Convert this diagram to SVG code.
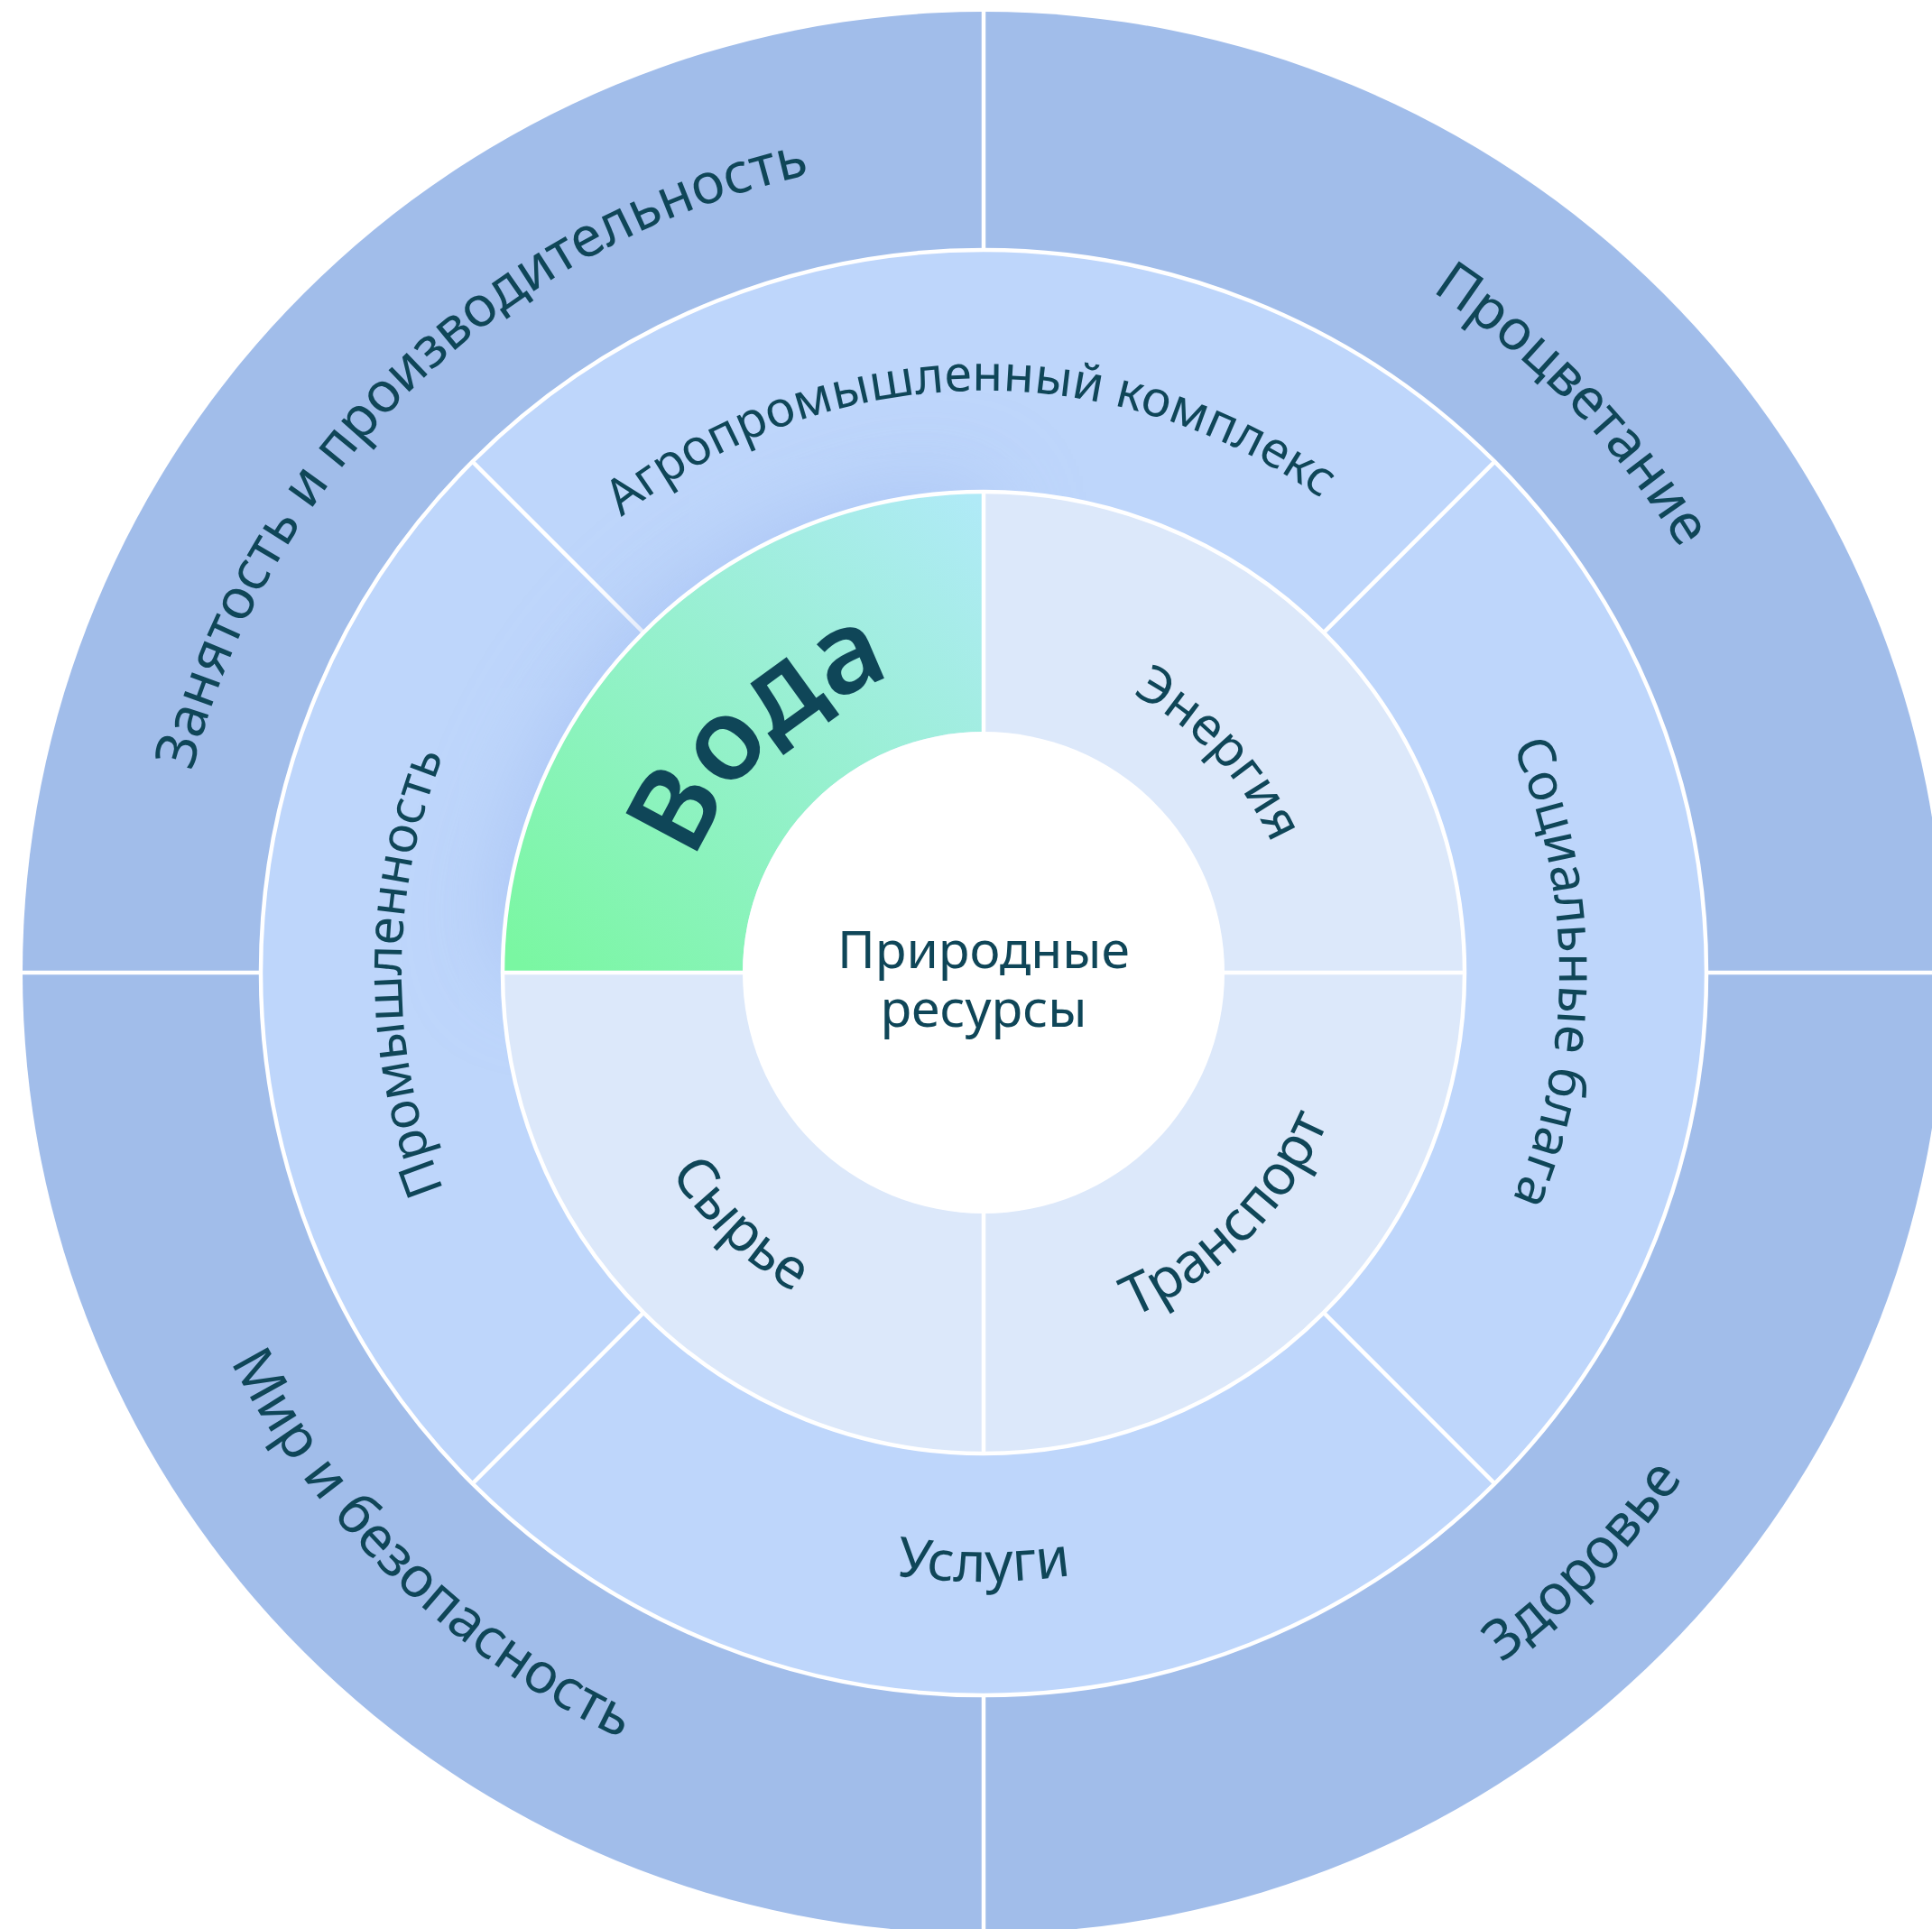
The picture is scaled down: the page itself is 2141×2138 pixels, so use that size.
<svg xmlns="http://www.w3.org/2000/svg" width="2141" height="2138" viewBox="0 0 2141 2138">
<style>
.lbl{font-family:"Noto Sans","DejaVu Sans",sans-serif;font-size:57px;fill:#0f4658;}
.outer{font-size:62px;}
.big{font-family:"Noto Sans","DejaVu Sans",sans-serif;font-size:126px;font-weight:600;fill:#0f4658;}
.div{stroke:#ffffff;stroke-width:4.5;fill:none;}
</style>
<defs>
<linearGradient id="gWater" gradientUnits="userSpaceOnUse" x1="580" y1="1070" x2="1090" y2="560">
<stop offset="0" stop-color="#7af7a2"/>
<stop offset="1" stop-color="#b0eaf7"/>
</linearGradient>
<filter id="fGlow" x="-50%" y="-50%" width="200%" height="200%">
<feGaussianBlur stdDeviation="55"/>
</filter>
<clipPath id="cMid"><circle cx="1090" cy="1078" r="798"/></clipPath>
<path id="pZan" d="M 439.0 1706.7 A 905 905 0 0 1 1741.0 449.3"/>
<path id="pPro" d="M 458.6 424.1 A 909 909 0 0 1 1721.4 1731.9"/>
<path id="pZdr" d="M 415.7 1764.1 A 962 962 0 0 0 1764.3 391.9"/>
<path id="pMir" d="M 409.4 421.0 A 946 946 0 0 0 1770.6 1735.0"/>
<path id="pAgro" d="M 445.2 1094.9 A 645 645 0 0 1 1734.8 1061.1"/>
<path id="pProm" d="M 1090 1723 A 645 645 0 0 1 1090 433"/>
<path id="pSoc" d="M 1090 440 A 638 638 0 0 1 1090 1716"/>
<path id="pUsl" d="M 415 1078 A 675 675 0 0 0 1765 1078"/>
<path id="pEn" d="M 851.3 822.0 A 350 350 0 0 1 1328.7 1334.0"/>
<path id="pTr" d="M 795.8 1372.2 A 416 416 0 0 0 1384.2 783.8"/>
<path id="pSyr" d="M 793.6 791.8 A 412 412 0 0 0 1386.4 1364.2"/>
<path id="pVoda" d="M 837.7 1313.3 A 345 345 0 0 1 1342.3 842.7"/>
</defs>
<rect width="2141" height="2138" fill="#ffffff"/>

<g id="outer-ring">
<circle cx="1090" cy="1078" r="1065" fill="#a1bdea"/>
</g>
<g id="middle-ring">
<circle cx="1090" cy="1078" r="801" fill="#bed6fb" stroke="#ffffff" stroke-width="4.5"/>
</g>

<g id="connectors">
<line class="div" x1="1090" y1="0" x2="1090" y2="278"/>
<line class="div" x1="1090" y1="1878" x2="1090" y2="2138"/>
<line class="div" x1="0" y1="1078" x2="290" y2="1078"/>
<line class="div" x1="1890" y1="1078" x2="2141" y2="1078"/>
<line class="div" x1="713.1" y1="701.1" x2="523.6" y2="511.6"/>
<line class="div" x1="1466.9" y1="701.1" x2="1656.4" y2="511.6"/>
<line class="div" x1="1466.9" y1="1454.9" x2="1656.4" y2="1644.4"/>
<line class="div" x1="713.1" y1="1454.9" x2="523.6" y2="1644.4"/>
</g>

<g id="glow" clip-path="url(#cMid)">
<path d="M 557 1078 A 533 533 0 0 1 1090 545 L 1090 811 A 267 267 0 0 0 823 1078 Z" fill="#95b2ee" opacity="0.55" filter="url(#fGlow)"/>
</g>

<g id="inner-ring">
<circle cx="1090" cy="1078" r="533" fill="#dce8fa"/>
</g>
<g id="node-voda">
<path d="M 557 1078 A 533 533 0 0 1 1090 545 L 1090 811 A 267 267 0 0 0 823 1078 Z" fill="url(#gWater)"/>
<text class="big"><textPath href="#pVoda" startOffset="50%" text-anchor="middle">Вода</textPath></text>
</g>
<g id="inner-borders">
<circle cx="1090" cy="1078" r="533" fill="none" stroke="#ffffff" stroke-width="4.5"/>
<line class="div" x1="1090" y1="545" x2="1090" y2="812"/>
<line class="div" x1="1090" y1="1344" x2="1090" y2="1611"/>
<line class="div" x1="557" y1="1078" x2="824" y2="1078"/>
<line class="div" x1="1356" y1="1078" x2="1623" y2="1078"/>
</g>

<g id="node-center">
<circle cx="1090" cy="1078" r="267" fill="#ffffff"/>
<text class="lbl" x="1090" y="1073" text-anchor="middle">Природные</text>
<text class="lbl" x="1090" y="1138" text-anchor="middle">ресурсы</text>
</g>

<g id="node-energy"><text class="lbl"><textPath href="#pEn" startOffset="50%" text-anchor="middle">Энергия</textPath></text></g>
<g id="node-transport"><text class="lbl" style="font-size:62px"><textPath href="#pTr" startOffset="50%" text-anchor="middle">Транспорт</textPath></text></g>
<g id="node-raw"><text class="lbl" style="font-size:62px"><textPath href="#pSyr" startOffset="50%" text-anchor="middle">Сырье</textPath></text></g>

<g id="node-agro"><text class="lbl" style="font-size:55px"><textPath href="#pAgro" startOffset="50%" text-anchor="middle">Агропромышленный комплекс</textPath></text></g>
<g id="node-industry"><text class="lbl" style="font-size:56px"><textPath href="#pProm" startOffset="50%" text-anchor="middle">Промышленность</textPath></text></g>
<g id="node-social"><text class="lbl"><textPath href="#pSoc" startOffset="50%" text-anchor="middle">Социальные блага</textPath></text></g>
<g id="node-services"><text class="lbl" style="font-size:61px"><textPath href="#pUsl" startOffset="50%" text-anchor="middle">Услуги</textPath></text></g>

<g id="node-employment"><text class="lbl outer"><textPath href="#pZan" startOffset="50%" text-anchor="middle">Занятость и производительность</textPath></text></g>
<g id="node-prosperity"><text class="lbl outer"><textPath href="#pPro" startOffset="50%" text-anchor="middle">Процветание</textPath></text></g>
<g id="node-health"><text class="lbl outer"><textPath href="#pZdr" startOffset="50%" text-anchor="middle">Здоровье</textPath></text></g>
<g id="node-peace"><text class="lbl outer"><textPath href="#pMir" startOffset="50%" text-anchor="middle">Мир и безопасность</textPath></text></g>
</svg>
